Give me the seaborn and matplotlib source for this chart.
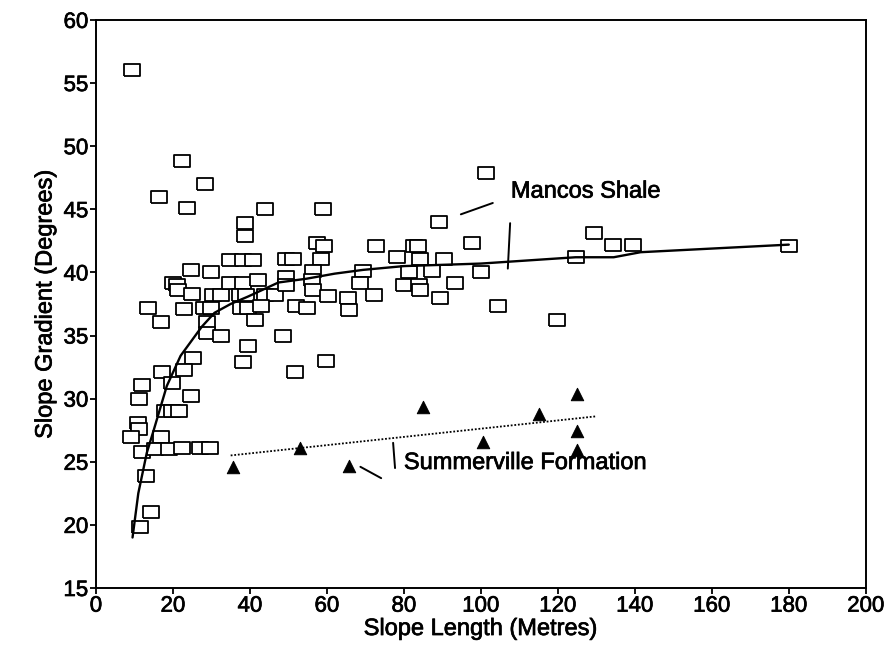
import matplotlib
matplotlib.use("Agg")
import matplotlib.pyplot as plt
import matplotlib.patheffects as pe
import numpy as np
import pandas as pd
import seaborn as sns

# Mancos Shale observations (slope length m, slope gradient deg)
mancos_x = [9.3, 22.3, 28.2, 16.3, 23.6, 43.8, 38.6, 38.6,
            34.7, 38.3, 40.9, 24.6, 29.8, 19.9, 21.0, 21.2, 24.9, 30.3, 32.6,
            34.7, 38.1, 42.2, 37.3, 39.1, 43.8, 46.4, 13.5, 23.0, 28.0, 30.0,
            37.8, 39.6, 43.0, 16.8, 28.8, 41.2, 28.8, 32.4, 39.4, 38.1, 25.1,
            22.8, 17.1, 19.7, 11.9,
            11.1, 24.6, 17.9, 19.7, 21.5, 10.9, 11.1, 9.1, 16.8, 11.9, 15.3,
            18.9, 22.3, 26.9, 29.5, 13.0, 14.2, 11.4,
            57.3, 59.3, 72.8, 82.6, 83.7, 97.7, 58.5, 49.5, 51.3, 78.2, 84.2,
            90.4, 56.5, 69.4, 81.3, 87.3, 100.0, 49.5, 49.5, 56.0, 68.7, 80.0,
            84.0, 56.5, 60.4, 65.5, 72.3, 84.2, 93.3, 89.4, 52.0, 54.7, 65.8,
            48.7, 59.8, 51.6, 89.0, 59.0,
            101.3, 129.3, 134.2, 139.6, 124.6, 104.4, 119.7, 180.0]
mancos_y = [56.0, 48.8, 47.0, 46.0, 45.1, 45.0, 43.9, 42.9,
            41.0, 41.0, 41.0, 40.2, 40.0, 39.2, 39.0, 38.6, 38.3, 38.2, 38.2,
            39.2, 39.2, 39.4, 38.2, 38.2, 38.2, 38.2, 37.2, 37.1, 37.2, 37.2,
            37.2, 37.2, 37.3, 36.1, 36.1, 36.2, 35.2, 35.0, 34.2, 32.9, 33.2,
            32.3, 32.1, 31.2, 31.1,
            30.0, 30.2, 29.0, 29.0, 29.0, 28.1, 27.6, 27.0, 27.0, 25.8, 26.0,
            26.0, 26.1, 26.1, 26.1, 23.9, 21.0, 19.8,
            42.3, 42.1, 42.1, 42.1, 42.1, 42.3, 41.1, 41.1, 41.1, 41.2, 41.1,
            41.1, 40.1, 40.1, 40.0, 40.1, 40.0, 39.6, 39.0, 39.4, 39.2, 39.0,
            39.0, 38.6, 38.1, 38.0, 38.2, 38.6, 39.2, 38.0, 37.3, 37.2, 37.0,
            35.0, 33.0, 32.1, 44.0, 45.0,
            47.9, 43.1, 42.2, 42.2, 41.2, 37.3, 36.2, 42.1]

# Summerville Formation observations
summer_x = [35.7, 52.9, 65.8, 85.0, 100.5, 115.0, 125.0, 125.0, 125.0]
summer_y = [24.6, 26.1, 24.7, 29.3, 26.6, 28.8, 30.4, 27.4, 25.9]

# fitted curves
mancos_fit_x = [9.5, 11.0, 13.2, 15.0, 18.4, 22.0, 27.5, 30.8, 35.0, 39.6,
                47.4, 54.7, 62.0, 69.4, 80.0, 100.0, 124.6, 134.5, 141.5, 180.0]
mancos_fit_y = [19.0, 22.5, 25.7, 27.5, 31.0, 33.4, 35.7, 36.8, 37.5, 38.1,
                39.2, 39.5, 39.9, 40.2, 40.5, 40.7, 41.2, 41.2, 41.6, 42.2]
summer_fit_x = [35.0, 130.0]
summer_fit_y = [25.5, 28.6]

mancos = pd.DataFrame({"length": mancos_x, "gradient": mancos_y})
summer = pd.DataFrame({"length": summer_x, "gradient": summer_y})

sns.set_theme(style="ticks")
plt.rcParams["font.family"] = ["Liberation Sans", "DejaVu Sans"]
plt.rcParams["text.color"] = "black"
plt.rcParams["axes.labelcolor"] = "black"
plt.rcParams["xtick.color"] = "black"
plt.rcParams["ytick.color"] = "black"

# slightly heavier strokes, like the scanned print
thick = [pe.withStroke(linewidth=0.5, foreground="black")]

fig = plt.figure(figsize=(8.91, 6.47), dpi=100)
ax = fig.add_axes([0.1077, 0.0912, 0.864, 0.878])

box = [(-1.4, -1), (1.4, -1), (1.4, 1), (-1.4, 1), (-1.4, -1)]
sns.scatterplot(data=mancos, x="length", y="gradient", marker=box, s=130,
                facecolor="white", edgecolor="black", linewidth=1.3, ax=ax, zorder=3)
sns.scatterplot(data=summer, x="length", y="gradient", marker="^", s=80,
                color="black", edgecolor="black", ax=ax, zorder=3)
sns.lineplot(x=mancos_fit_x, y=mancos_fit_y, sort=False, estimator=None,
             color="black", linewidth=1.7, ax=ax, zorder=4)
sns.lineplot(x=summer_fit_x, y=summer_fit_y, sort=False, estimator=None,
             color="black", linewidth=1.3, linestyle=(0, (1, 1)), ax=ax, zorder=4)

# labels with leader lines
ax.text(107.8, 46.4, "Mancos Shale", fontsize=17, va="center", ha="left",
        path_effects=thick)
ax.plot([94.8, 103.1], [44.6, 45.5], color="black", linewidth=1.4)
ax.plot([107.6, 107.0], [43.9, 40.3], color="black", linewidth=1.4)
ax.text(80.0, 24.9, "Summerville Formation", fontsize=17, va="center", ha="left",
        path_effects=thick)
ax.plot([68.7, 74.1], [24.6, 23.7], color="black", linewidth=1.4)
ax.plot([77.2, 77.7], [26.5, 24.5], color="black", linewidth=1.4)

ax.set_xlim(0, 200)
ax.set_ylim(15, 60)
ax.set_xticks(np.arange(0, 201, 20))
ax.set_yticks(np.arange(15, 61, 5))
ax.set_xlabel("Slope Length (Metres)", fontsize=17, labelpad=1, path_effects=thick)
ax.set_ylabel("Slope Gradient (Degrees)", fontsize=17, labelpad=5, path_effects=thick)
ax.tick_params(labelsize=16, length=4.5, width=1.3, color="black", pad=1)
for lab in ax.get_xticklabels() + ax.get_yticklabels():
    lab.set_path_effects(thick)
for sp in ax.spines.values():
    sp.set_color("black")
    sp.set_linewidth(1.4)

fig.savefig("out.png", dpi=100, facecolor="white")
